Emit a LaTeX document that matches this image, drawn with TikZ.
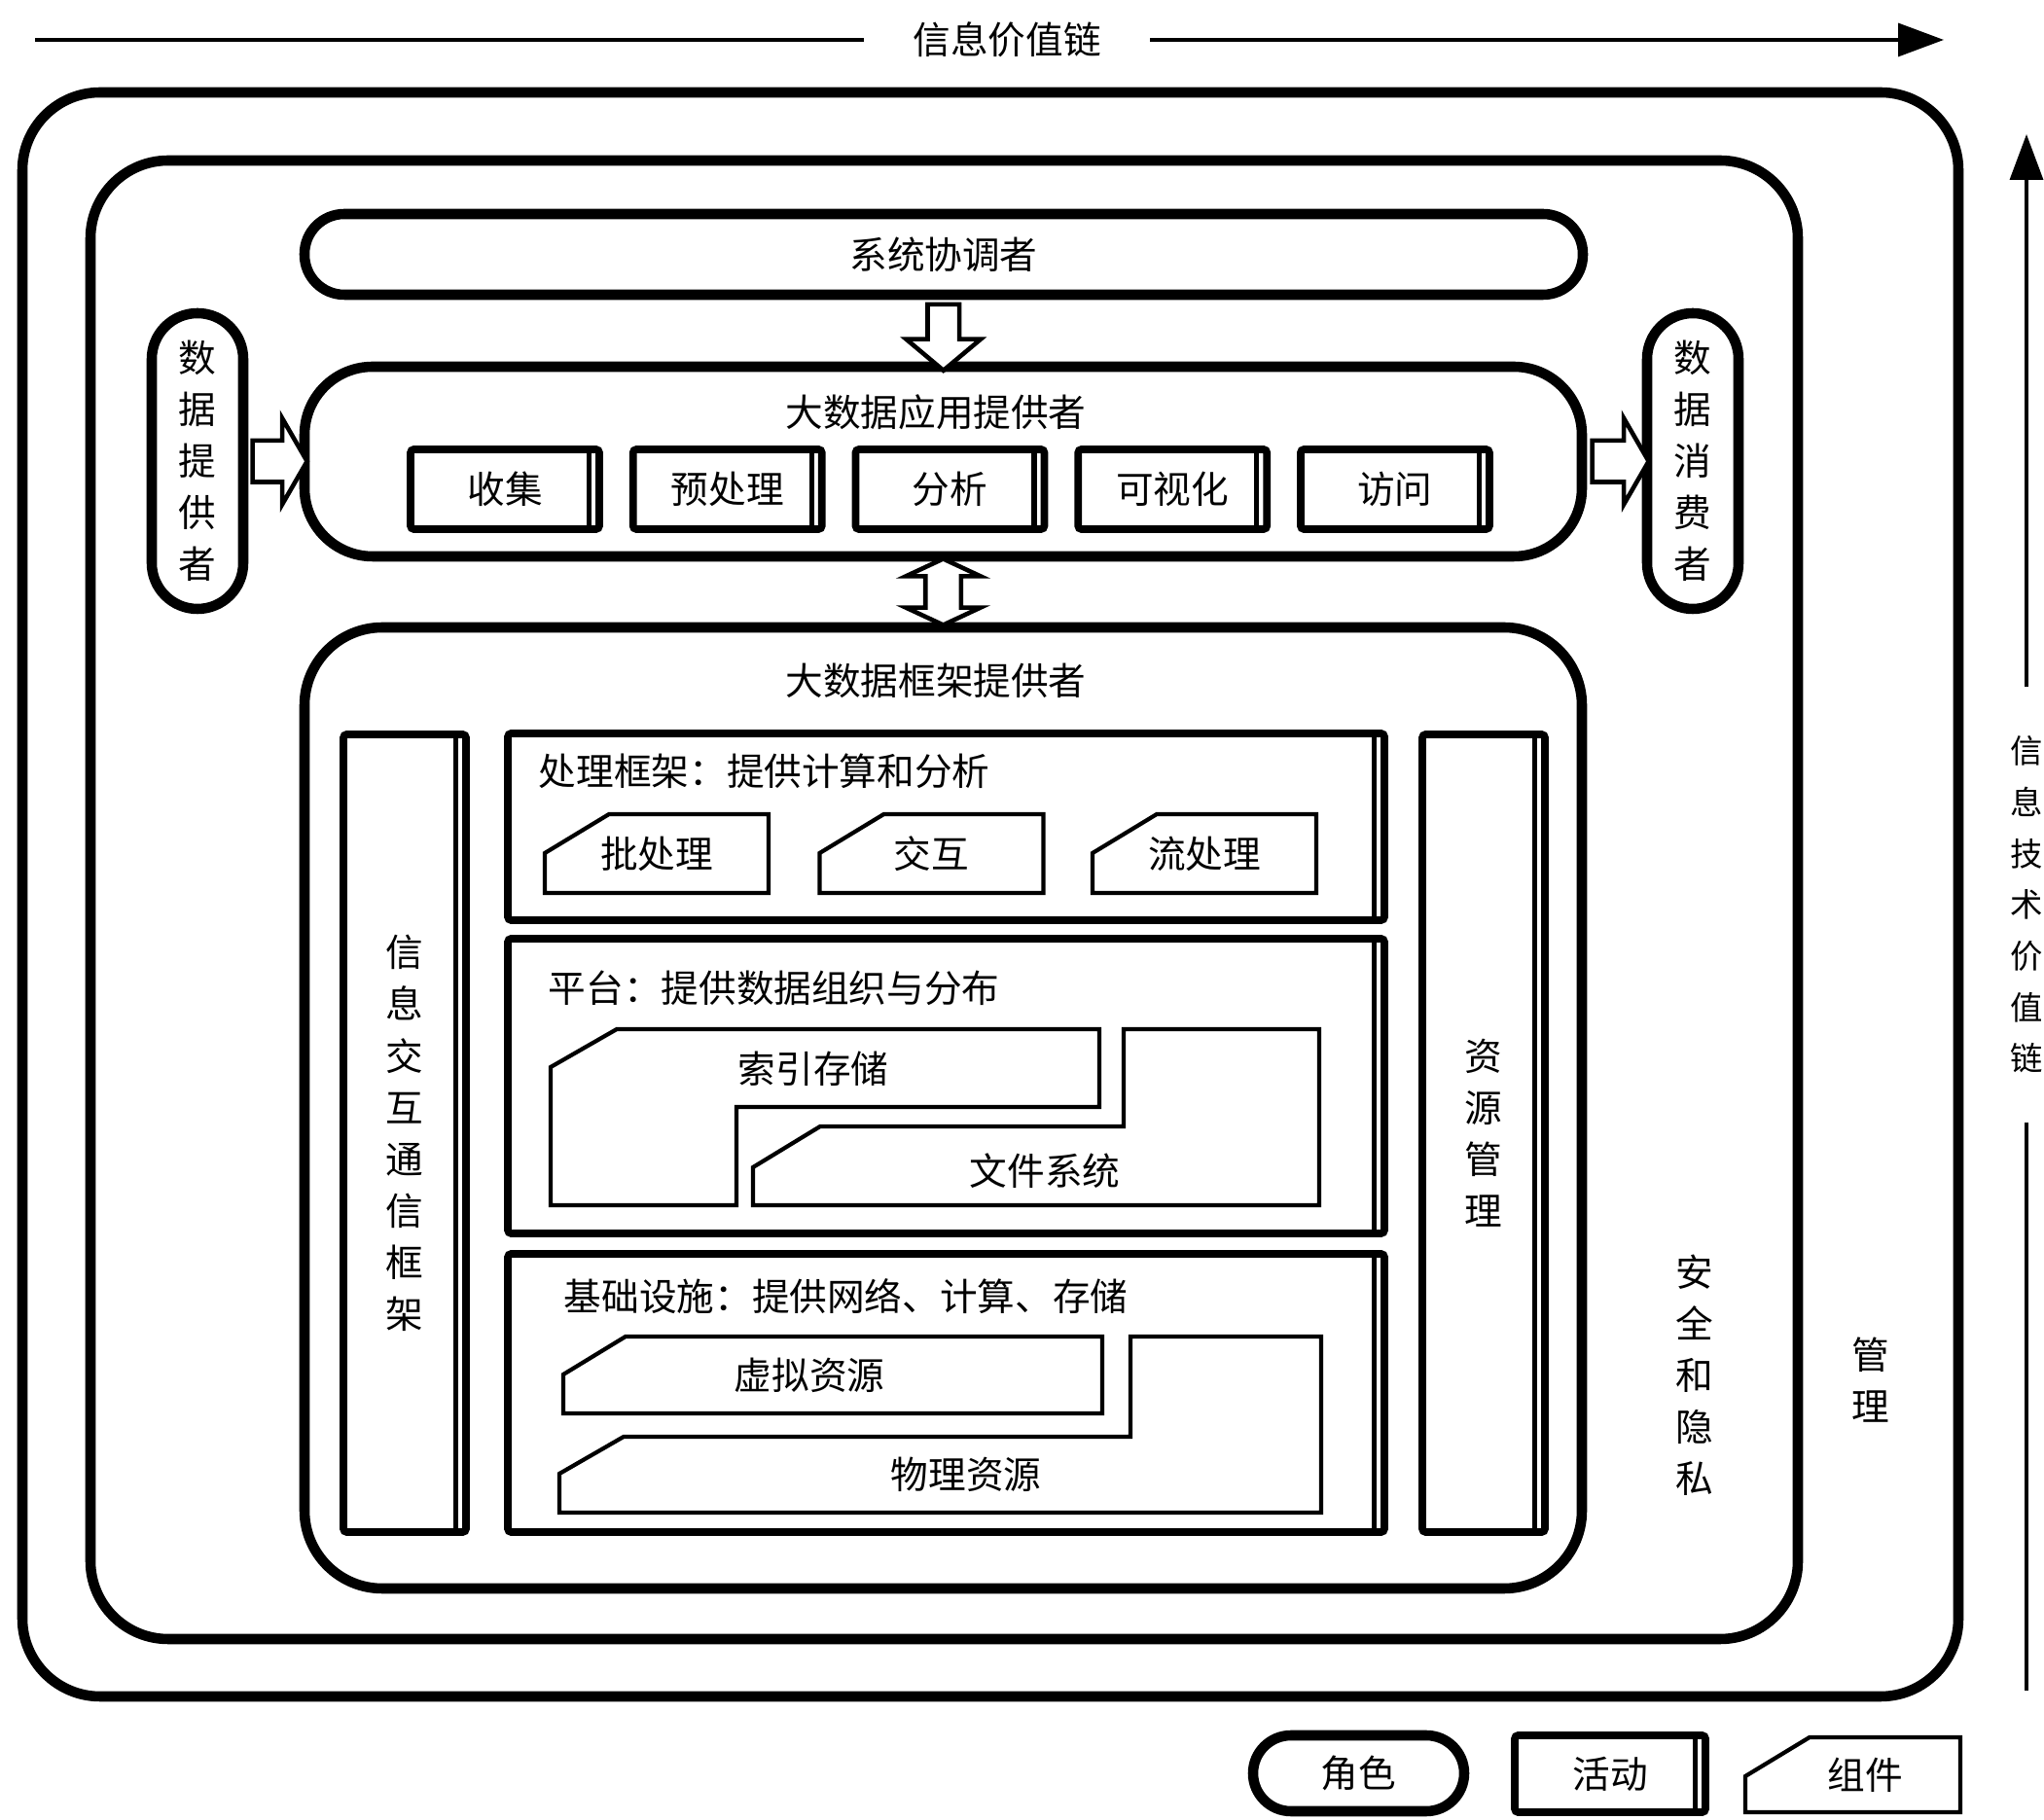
\documentclass[tikz,border=0pt]{standalone}
\usepackage{fontspec}
\setmainfont{Noto Sans CJK SC}
\usetikzlibrary{shapes.arrows,arrows.meta,positioning,calc}

\begin{document}
\begin{tikzpicture}[
    font=\fontsize{11}{13}\selectfont,
    role/.style={rectangle, draw=black, line width=3pt, rounded corners=0.75cm, inner sep=0pt},
    act/.style={rectangle, draw=black, line width=2.2pt, rounded corners=1pt, inner sep=0pt,
        path picture={\draw[line width=1.5pt]
            ([xshift=-3pt]path picture bounding box.north east) --
            ([xshift=-3pt]path picture bounding box.south east);}},
    appact/.style={act, minimum width=1.94cm, minimum height=0.82cm},
    comp/.style={rectangle, minimum width=2.30cm, minimum height=0.81cm, inner sep=0pt, outer sep=0pt},
    compline/.style={draw=black, line width=1.2pt},
    harrow/.style={single arrow, draw=black, fill=white, line width=1.3pt, inner xsep=0pt},
    darrow/.style={double arrow, draw=black, fill=white, line width=1.3pt, inner xsep=0pt},
    vtext/.style={align=center, font=\fontsize{11}{15.1}\selectfont, inner sep=0pt},
    hdr/.style={inner sep=0pt},
    chain/.style={line width=1pt},
    chaintip/.style={-{Triangle[length=0.47cm, width=0.34cm]}}
]
    \useasboundingbox (0,0) rectangle (21.01,18.70);

    % value chains
    \node[inner xsep=0.5cm] (infochain) at (10.35,18.29) {信息价值链};
    \coordinate (icl) at (0.36,18.29);
    \coordinate (icr) at (19.98,18.29);
    \draw[chain] (infochain.west) -- (icl);
    \draw[chain, chaintip] (infochain.east) -- (icr);

    \node[vtext, font=\fontsize{9.5}{15}\selectfont, inner ysep=0.5cm] (itchain) at (20.83,9.40) {信\\息\\技\\术\\价\\值\\链};
    \coordinate (itb) at (20.83,1.32);
    \coordinate (itt) at (20.83,17.32);
    \draw[chain] (itchain.south) -- (itb);
    \draw[chain, chaintip] (itchain.north) -- (itt);

    % management, security and privacy
    \node[role, rounded corners=0.8cm, minimum width=19.90cm, minimum height=16.49cm] (mgmt) at (10.18,9.505) {};
    \node[role, rounded corners=0.8cm, minimum width=17.55cm, minimum height=15.20cm] (secpriv) at (9.705,9.45) {};
    \node[vtext] (mgmtlbl) at (19.23,4.51) {管\\理};
    \node[vtext] (seclbl) at (17.42,4.56) {安\\全\\和\\隐\\私};

    % orchestrator, providers, consumer
    \node[role, rounded corners=0.41cm, minimum width=13.14cm, minimum height=0.83cm] (sysco) at (9.70,16.085) {系统协调者};
    \node[role, rounded corners=0.7cm, minimum width=13.13cm, minimum height=1.95cm] (appprov) at (9.695,13.955) {};
    \node[hdr] (apptitle) at (9.62,14.46) {大数据应用提供者};
    \node[appact] (collect) at (5.19,13.67) {收集};
    \node[appact, right=0.27cm of collect] (prep) {预处理};
    \node[appact, right=0.27cm of prep] (analyze) {分析};
    \node[appact, right=0.27cm of analyze] (visual) {可视化};
    \node[appact, right=0.27cm of visual] (access) {访问};

    \node[role, vtext, rounded corners=0.47cm, minimum width=0.94cm, minimum height=3.04cm] (dprov) at (2.03,13.96) {数\\据\\提\\供\\者};
    \node[role, vtext, rounded corners=0.47cm, minimum width=0.94cm, minimum height=3.04cm] (dcons) at (17.40,13.96) {数\\据\\消\\费\\者};

    \node[harrow, minimum height=0.56cm, minimum width=0.86cm, inner ysep=0.19cm,
        single arrow head extend=0.23cm, single arrow tip angle=120] (dataIn) at ($(dprov.east)!0.5!(appprov.west)$) {};
    \node[harrow, minimum height=0.58cm, minimum width=0.86cm, inner ysep=0.19cm,
        single arrow head extend=0.23cm, single arrow tip angle=120] (dataOut) at ($(appprov.east)!0.5!(dcons.west)$) {};
    \node[harrow, rotate=-90, minimum height=0.68cm, minimum width=0.74cm, inner ysep=0.14cm,
        single arrow head extend=0.22cm, single arrow tip angle=100] (orchIn) at ($(sysco.south)!0.5!(appprov.north)$) {};

    % framework provider
    \node[role, rounded corners=0.8cm, minimum width=13.13cm, minimum height=9.88cm] (fwprov) at (9.695,7.31) {};
    \node[darrow, rotate=90, minimum height=0.68cm, minimum width=0.74cm, inner ysep=0.16cm,
        double arrow head extend=0.2cm, double arrow tip angle=130] (appfw) at ($(appprov.south)!0.5!(fwprov.north)$) {};
    \node[hdr] (fwtitle) at (9.62,11.70) {大数据框架提供者};

    \node[act, vtext, minimum width=1.26cm, minimum height=8.20cm] (iccf) at (4.16,7.05) {信\\息\\交\\互\\通\\信\\框\\架};
    \node[act, vtext, minimum width=1.26cm, minimum height=8.20cm] (resmgmt) at (15.25,7.05) {资\\源\\管\\理};

    \node[act, minimum width=9.01cm, minimum height=1.92cm] (procfw) at (9.725,10.20) {};
    \node[hdr, anchor=west] (proctitle) at (5.53,10.77) {处理框架：提供计算和分析};
    \node[comp] (batch) at (6.75,9.925) {批处理};
    \node[comp] (interact) at (9.575,9.925) {交互};
    \node[comp] (stream) at (12.38,9.925) {流处理};

    \node[act, minimum width=9.01cm, minimum height=3.03cm] (platf) at (9.725,7.535) {};
    \node[hdr, anchor=west] (plattitle) at (5.63,8.54) {平台：提供数据组织与分布};
    \draw[compline] (5.66,7.73) -- (6.34,8.12) -- (11.30,8.12) -- (11.30,7.32) -- (7.57,7.32) -- (7.57,6.31) -- (5.66,6.31) -- cycle;
    \node (idxstor) at (8.36,7.71) {索引存储};
    \draw[compline] (7.74,6.70) -- (8.43,7.12) -- (11.55,7.12) -- (11.55,8.12) -- (13.56,8.12) -- (13.56,6.31) -- (7.74,6.31) -- cycle;
    \node (filesys) at (10.74,6.66) {文件系统};

    \node[act, minimum width=9.01cm, minimum height=2.86cm] (infra) at (9.725,4.38) {};
    \node[hdr, anchor=west] (infratitle) at (5.79,5.37) {基础设施：提供网络、计算、存储};
    \draw[compline] (5.79,4.57) -- (6.43,4.96) -- (11.33,4.96) -- (11.33,4.17) -- (5.79,4.17) -- cycle;
    \node (virtres) at (8.32,4.56) {虚拟资源};
    \draw[compline] (5.75,3.55) -- (6.41,3.93) -- (11.62,3.93) -- (11.62,4.96) -- (13.58,4.96) -- (13.58,3.15) -- (5.75,3.15) -- cycle;
    \node (physres) at (9.93,3.54) {物理资源};

    % legend
    \node[role, rounded corners=0.39cm, minimum width=2.17cm, minimum height=0.78cm] (lrole) at (13.965,0.47) {角色};
    \node[act, minimum width=1.96cm, minimum height=0.79cm] (lact) at (16.55,0.465) {活动};
    \node[comp, minimum width=2.21cm, minimum height=0.77cm] (lcomp) at (19.045,0.455) {\hspace{0.25cm}组件};

    \foreach \c in {batch,interact,stream,lcomp}
        \draw[compline] ([yshift=-0.40cm]\c.north west) -- ([xshift=0.66cm]\c.north west)
            -| (\c.south east) -- (\c.south west) -- cycle;
\end{tikzpicture}
\end{document}
